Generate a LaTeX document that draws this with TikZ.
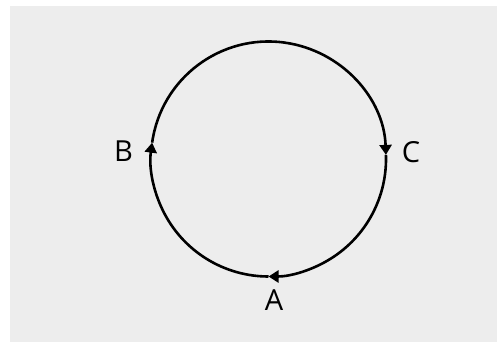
\documentclass[tikz,border=0pt]{standalone}
\usepackage{fontspec}
\setmainfont{Open Sans}
\usepackage{tikz}
\usetikzlibrary{arrows.meta, calc}
\definecolor{panel}{HTML}{EDEDED}

\begin{document}
\begin{tikzpicture}[x=1pt, y=1pt,
            flow/.style={draw=black, line width=2.6pt, -{Triangle[length=10pt, width=12pt]}},
            lbl/.style={font=\fontsize{29}{31}\selectfont, inner sep=0pt, text height=20.5pt, text depth=0pt}]
            \useasboundingbox (0,0) rectangle (497,342);
            \fill[panel] (10,0) rectangle (497,336);
            % points on the cycle
            \coordinate (ctr) at (268.5,183);
            \coordinate (pA) at ($(ctr)+(270:117.5)$);
            \coordinate (pB) at ($(ctr)+(172:117.5)$);
            \coordinate (pC) at ($(ctr)+(2:117.5)$);
            \node[lbl] (labA) at (274,42) {A};
            \node[lbl] (labB) at (123.5,190.3) {B};
            \node[lbl] (labC) at (411,189.5) {C};
            \draw[flow] (pC) arc[start angle=2, end angle=-90, radius=117.5];
            \draw[flow] (pA) arc[start angle=-90, end angle=-188, radius=117.5];
            \draw[flow] (pB) arc[start angle=172, end angle=2, radius=117.5];
        \end{tikzpicture}
\end{document}
